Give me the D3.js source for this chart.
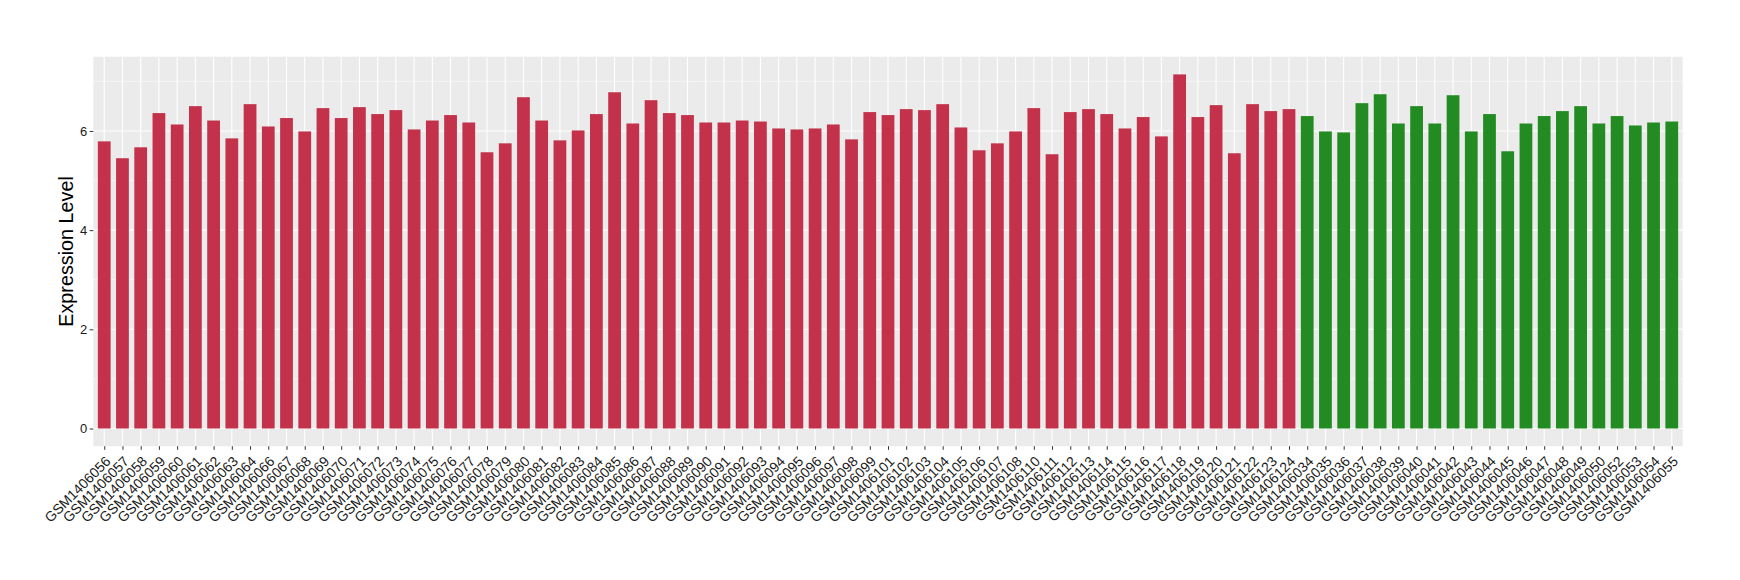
<!DOCTYPE html>
<html><head><meta charset="utf-8">
<script src="https://cdn.jsdelivr.net/npm/d3@7"></script>
<style>html,body{margin:0;padding:0;background:#fff;}svg{display:block;}</style>
</head><body>
<svg id="chart" width="1740" height="580"></svg>
<script>
const redSamples = ["GSM1406056","GSM1406057","GSM1406058","GSM1406059","GSM1406060","GSM1406061","GSM1406062","GSM1406063","GSM1406064","GSM1406066","GSM1406067","GSM1406068","GSM1406069","GSM1406070","GSM1406071","GSM1406072","GSM1406073","GSM1406074","GSM1406075","GSM1406076","GSM1406077","GSM1406078","GSM1406079","GSM1406080","GSM1406081","GSM1406082","GSM1406083","GSM1406084","GSM1406085","GSM1406086","GSM1406087","GSM1406088","GSM1406089","GSM1406090","GSM1406091","GSM1406092","GSM1406093","GSM1406094","GSM1406095","GSM1406096","GSM1406097","GSM1406098","GSM1406099","GSM1406101","GSM1406102","GSM1406103","GSM1406104","GSM1406105","GSM1406106","GSM1406107","GSM1406108","GSM1406110","GSM1406111","GSM1406112","GSM1406113","GSM1406114","GSM1406115","GSM1406116","GSM1406117","GSM1406118","GSM1406119","GSM1406120","GSM1406121","GSM1406122","GSM1406123","GSM1406124"];
const redValues = [5.79,5.45,5.67,6.36,6.13,6.50,6.21,5.85,6.54,6.09,6.26,5.99,6.46,6.26,6.48,6.34,6.42,6.03,6.21,6.32,6.17,5.57,5.75,6.68,6.21,5.81,6.01,6.34,6.78,6.15,6.62,6.36,6.32,6.17,6.17,6.21,6.19,6.05,6.03,6.05,6.13,5.83,6.38,6.32,6.44,6.42,6.54,6.07,5.61,5.75,5.99,6.46,5.53,6.38,6.44,6.34,6.05,6.28,5.89,7.14,6.28,6.52,5.55,6.54,6.40,6.44];
const greenSamples = ["GSM1406034","GSM1406035","GSM1406036","GSM1406037","GSM1406038","GSM1406039","GSM1406040","GSM1406041","GSM1406042","GSM1406043","GSM1406044","GSM1406045","GSM1406046","GSM1406047","GSM1406048","GSM1406049","GSM1406050","GSM1406052","GSM1406053","GSM1406054","GSM1406055"];
const greenValues = [6.30,5.99,5.97,6.56,6.74,6.15,6.50,6.15,6.72,5.99,6.34,5.59,6.15,6.30,6.40,6.50,6.15,6.30,6.11,6.17,6.19];
const yTicks = [0,2,4,6];
const yMinor = [1,3,5,7];
const yTitle = "Expression Level";
const redColor = "#C3314A", greenColor = "#228B22";

const data = redSamples.map((s,i)=>({s, v: redValues[i], c: redColor}))
  .concat(greenSamples.map((s,i)=>({s, v: greenValues[i], c: greenColor})));

const svg = d3.select("#chart");
const P = {left: 93.3, right: 1682.7, top: 56.7, bottom: 446.2};
const maxV = d3.max(data, d=>d.v);
const y = d3.scaleLinear().domain([-0.05*maxV, maxV*1.05]).range([P.bottom, P.top]);
const n = data.length;
const step = (P.right - P.left) / (n - 1 + 1.2);
const x = d3.scalePoint().domain(data.map(d=>d.s)).range([P.left + 0.6*step, P.right - 0.6*step]);
const barW = step * 0.7;

svg.append("rect").attr("x", P.left).attr("y", P.top).attr("width", P.right-P.left).attr("height", P.bottom-P.top).attr("fill", "#EBEBEB");
const g = svg.append("g");
g.selectAll(".ymin").data(yMinor).join("line")
  .attr("x1", P.left).attr("x2", P.right).attr("y1", d=>y(d)).attr("y2", d=>y(d))
  .attr("stroke", "#fff").attr("stroke-width", 0.55);
g.selectAll(".ymaj").data(yTicks).join("line")
  .attr("x1", P.left).attr("x2", P.right).attr("y1", d=>y(d)).attr("y2", d=>y(d))
  .attr("stroke", "#fff").attr("stroke-width", 1.1);
g.selectAll(".xmaj").data(data).join("line")
  .attr("x1", d=>x(d.s)).attr("x2", d=>x(d.s)).attr("y1", P.top).attr("y2", P.bottom)
  .attr("stroke", "#fff").attr("stroke-width", 1.1);

svg.append("g").selectAll("rect").data(data).join("rect")
  .attr("x", d=>x(d.s)-barW/2).attr("width", barW)
  .attr("y", d=>y(d.v)).attr("height", d=>y(0)-y(d.v))
  .attr("fill", d=>d.c);

// y axis
const yAxis = d3.axisLeft(y).tickValues(yTicks).tickSize(3.6).tickPadding(2.5).tickFormat(d3.format("d"));
const ya = svg.append("g").attr("transform", `translate(${P.left},0)`).call(yAxis);
ya.select(".domain").remove();
ya.selectAll("line").attr("stroke", "#333").attr("stroke-width", 1);
ya.selectAll("text").attr("font-family", "Liberation Sans, Arial, sans-serif").attr("font-size", 13).attr("fill", "#1a1a1a");

// x axis
const xAxis = d3.axisBottom(x).tickSize(3.6).tickPadding(2);
const xa = svg.append("g").attr("transform", `translate(0,${P.bottom})`).call(xAxis);
xa.select(".domain").remove();
xa.selectAll("line").attr("stroke", "#333").attr("stroke-width", 1);
xa.selectAll("text")
  .attr("font-family", "Liberation Sans, Arial, sans-serif").attr("font-size", 14).attr("fill", "#1a1a1a")
  .attr("text-anchor", "end").attr("dy", null).attr("y", 0)
  .attr("transform", "translate(6.8,16) rotate(-45)");

svg.append("text")
  .attr("transform", `translate(73,${(P.top+P.bottom)/2}) rotate(-90)`)
  .attr("text-anchor", "middle")
  .attr("font-family", "Liberation Sans, Arial, sans-serif").attr("font-size", 19.8).attr("fill", "#000")
  .text(yTitle);
</script>
</body></html>
